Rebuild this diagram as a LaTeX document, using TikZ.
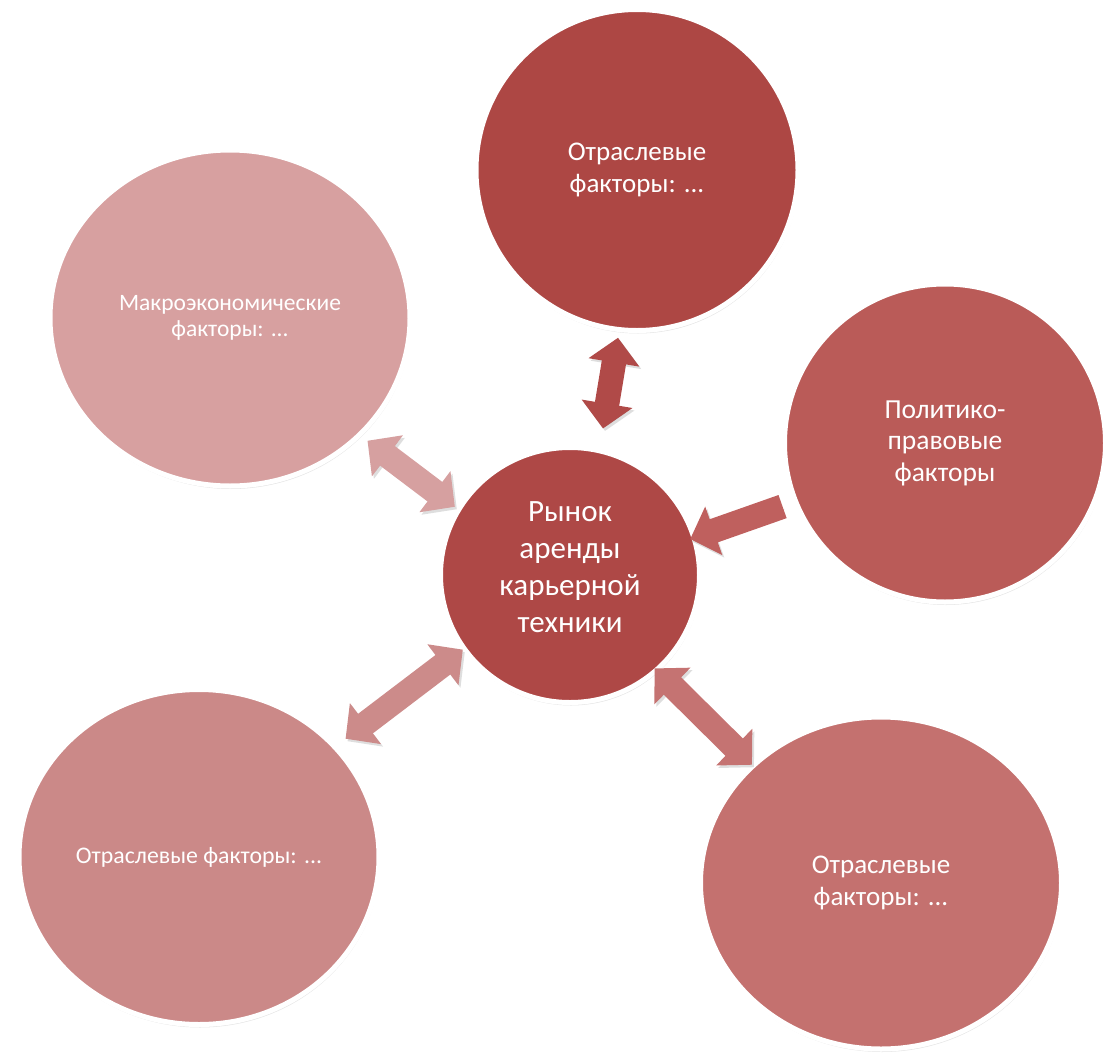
\documentclass[tikz,border=0pt]{standalone}
\usepackage{fontspec}
\setmainfont{Carlito}
\usetikzlibrary{shapes.geometric,arrows.meta,shadows}
\definecolor{ctrcol}{HTML}{AE4846}
\definecolor{topcol}{HTML}{AD4744}
\definecolor{polcol}{HTML}{BA5B58}
\definecolor{botrcol}{HTML}{C4716F}
\definecolor{botlcol}{HTML}{CB8988}
\definecolor{maccol}{HTML}{D7A0A0}
\begin{document}
\begin{tikzpicture}[x=1pt,y=-1pt,
    blob/.style={ellipse,draw=white,line width=5pt,inner sep=0pt,outer sep=0pt,text=white,align=center,
      drop shadow={shadow xshift=1pt,shadow yshift=-3pt,opacity=0.2}},
    dbl/.style={line width=24.5pt,arrows={Triangle[width=50pt,length=25pt]-Triangle[width=50pt,length=25pt]}},
    sgl/.style={line width=24.5pt,arrows={-Triangle[width=50pt,length=25pt]}}]
  \useasboundingbox (0,0) rectangle (1112,1055);
  % circles
  \node[blob,fill=maccol,minimum width=360pt,minimum height=336pt,font=\fontsize{23.5}{26}\selectfont] (mac) at (230,318) {Макроэкономические\\факторы: ...};
  \node[blob,fill=topcol,minimum width=322pt,minimum height=321pt,font=\fontsize{27}{32}\selectfont] (top) at (637,170) {Отраслевые\\факторы: ...};
  \node[blob,fill=polcol,minimum width=321pt,minimum height=318pt,font=\fontsize{27.5}{31.5}\selectfont] (pol) at (945,443) {Политико-\\правовые\\факторы};
  \node[blob,fill=botlcol,minimum width=360pt,minimum height=335pt,font=\fontsize{23.8}{28}\selectfont] (botl) at (199,857) {Отраслевые факторы: ...};
  \node[blob,fill=botrcol,minimum width=361pt,minimum height=332pt,font=\fontsize{27}{32}\selectfont] (botr) at (881,883) {Отраслевые\\факторы: ...};
  \node[blob,fill=ctrcol,minimum width=259pt,minimum height=255pt,text depth=16pt,font=\fontsize{31}{37}\selectfont] (ctr) at (570,575) {Рынок\\аренды\\карьерной\\техники};
  % arrows (last two values: small sideways shift)
  \foreach \a/\b/\s/\e/\c/\k/\dx/\dy in {ctr/top/22.5/8/B04A48/dbl/8.5/-1.5, ctr/mac/4.3/8.3/D6A0A0/dbl/-9/-12,
      pol/ctr/14/-4/BF605E/sgl/2/-5.7, ctr/botl/1.5/13.4/CC8B8A/dbl/-3.5/4.2, ctr/botr/-2.6/2/C57372/dbl/-4.8/-4.8}{\definecolor{arrcol}{HTML}{\c}
    \draw[\k,arrcol,shorten <=\s pt,shorten >=\e pt,transform canvas={shift={(\dx pt,\dy pt)}},
      preaction={draw=black,opacity=.13,transform canvas={shift={({\dx pt+2pt},{\dy pt-2.5pt})}}}] (\a) -- (\b);}
\end{tikzpicture}
\end{document}
